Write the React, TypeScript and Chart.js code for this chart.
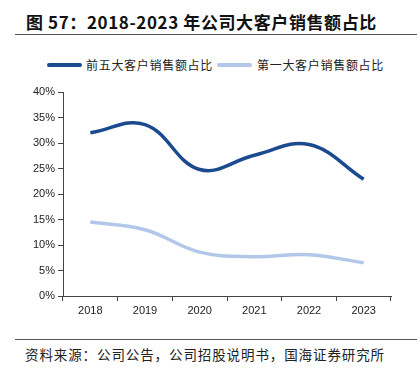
import React, { useEffect, useRef } from "react";
import { Chart, registerables } from "chart.js";

Chart.register(...registerables);

const title = "图 57：2018-2023 年公司大客户销售额占比";
const source = "资料来源：公司公告，公司招股说明书，国海证券研究所";
const years = ["2018", "2019", "2020", "2021", "2022", "2023"];
const top5Name = "前五大客户销售额占比";
const top1Name = "第一大客户销售额占比";
const top5Values = [32.0, 33.6, 24.8, 27.6, 29.7, 22.9];
const top1Values = [14.5, 13.0, 8.6, 7.7, 8.1, 6.5];
const darkColor = "#1C4A8E";
const lightColor = "#B3C7E8";

const fontStack = "Arial, 'Liberation Sans', 'Noto Sans CJK SC', sans-serif";
const cjkStack = "'Noto Sans CJK SC', sans-serif";

export default function App() {
  const ref = useRef<HTMLCanvasElement | null>(null);
  useEffect(() => {
    if (!ref.current) return;
    const chart = new Chart(ref.current, {
      type: "line",
      data: {
        labels: years,
        datasets: [
          {
            label: top5Name,
            data: top5Values,
            borderColor: darkColor,
            backgroundColor: darkColor,
            borderWidth: 3.5,
            pointRadius: 0,
            tension: 0.4,
          },
          {
            label: top1Name,
            data: top1Values,
            borderColor: lightColor,
            backgroundColor: lightColor,
            borderWidth: 3.5,
            pointRadius: 0,
            tension: 0.4,
          },
        ],
      },
      options: {
        animation: false,
        responsive: false,
        maintainAspectRatio: false,
        layout: { padding: { left: 0, right: 26, top: 12, bottom: 0 } },
        plugins: { legend: { display: false }, tooltip: { enabled: false } },
        scales: {
          x: {
            offset: true,
            grid: {
              offset: true,
              drawOnChartArea: false,
              drawTicks: true,
              tickLength: 5,
              color: "#444",
            },
            border: { display: true, color: "#444", width: 1 },
            ticks: {
              color: "#222",
              font: { size: 11, family: fontStack },
              padding: 3,
              maxRotation: 0,
            },
            afterFit: (s: any) => {
              s.height = 34;
            },
          },
          y: {
            min: 0,
            max: 40,
            grid: {
              drawOnChartArea: false,
              drawTicks: true,
              tickLength: 5,
              color: "#444",
            },
            border: { display: true, color: "#444", width: 1 },
            ticks: {
              stepSize: 5,
              color: "#222",
              font: { size: 11, family: fontStack },
              padding: 3,
              callback: (v: any) => v + "%",
            },
            afterFit: (s: any) => {
              s.width = 63;
            },
          },
        },
      },
    });
    return () => chart.destroy();
  }, []);

  return (
    <div
      style={{
        position: "fixed",
        left: 0,
        top: 0,
        width: 417,
        height: 372,
        background: "#fff",
        overflow: "hidden",
      }}
    >
      <div
        style={{
          position: "absolute",
          left: 26,
          top: 9,
          fontFamily: cjkStack,
          fontWeight: 700,
          fontSize: 17,
          letterSpacing: 0.6,
          lineHeight: "26px",
          color: "#111",
          whiteSpace: "nowrap",
        }}
      >
        {title}
      </div>
      <div
        style={{
          position: "absolute",
          left: 15,
          top: 34,
          width: 402,
          height: 1,
          background: "#555",
        }}
      />
      <div
        style={{
          position: "absolute",
          left: 47,
          top: 57,
          display: "flex",
          alignItems: "center",
          fontFamily: cjkStack,
          fontSize: 12,
          letterSpacing: 0.7,
          lineHeight: "16px",
          color: "#222",
          whiteSpace: "nowrap",
        }}
      >
        <span style={{ display: "inline-block", width: 35, height: 4, background: darkColor, borderRadius: 2, marginRight: 4 }} />
        <span style={{ marginRight: 4 }}>{top5Name}</span>
        <span style={{ display: "inline-block", width: 35, height: 4, background: lightColor, borderRadius: 2, marginRight: 5 }} />
        <span>{top1Name}</span>
      </div>
      <canvas
        ref={ref}
        width={417}
        height={250}
        style={{ position: "absolute", left: 0, top: 80, width: 417, height: 250 }}
      />
      <div
        style={{
          position: "absolute",
          left: 15,
          top: 339,
          width: 402,
          height: 1,
          background: "#555",
        }}
      />
      <div
        style={{
          position: "absolute",
          left: 25,
          top: 344,
          fontFamily: cjkStack,
          fontSize: 13.5,
          letterSpacing: 0.9,
          lineHeight: "20px",
          color: "#222",
          whiteSpace: "nowrap",
        }}
      >
        {source}
      </div>
    </div>
  );
}
